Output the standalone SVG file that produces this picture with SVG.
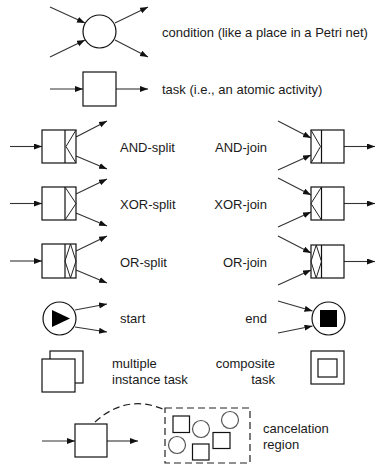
<svg xmlns="http://www.w3.org/2000/svg" width="381" height="466" viewBox="0 0 381 466">
<style>
.s{fill:#fff;stroke:#111;stroke-width:1.2}
.d{fill:none;stroke:#222;stroke-width:1}
.c{fill:none;stroke:#333;stroke-width:1.1;marker-end:url(#ah)}
.dash{fill:none;stroke:#222;stroke-width:1.2;stroke-dasharray:7,4}
.t{font-family:"Liberation Sans",Arial,sans-serif;font-size:13px;fill:#1a1a1a}
.e{text-anchor:end}
.g{fill:#fff;stroke:#555;stroke-width:1.2}
</style>
<defs>
<marker id="ah" markerUnits="userSpaceOnUse" markerWidth="9" markerHeight="7" refX="8" refY="3" orient="auto">
<path d="M0,0 L8,3 L0,6 z" fill="#111"/>
</marker>
</defs>
<rect width="381" height="466" fill="#fff"/>

<g id="connectors">
<line class="c" x1="50" y1="7" x2="85" y2="23"/>
<line class="c" x1="50" y1="57" x2="85" y2="40"/>
<line class="c" x1="115" y1="23" x2="148" y2="7"/>
<line class="c" x1="115" y1="40" x2="148" y2="57"/>
<line class="c" x1="50" y1="89" x2="83" y2="89"/>
<line class="c" x1="116" y1="89" x2="148" y2="89"/>
<line class="c" x1="10" y1="146.5" x2="42" y2="146.5"/>
<line class="c" x1="76" y1="137" x2="107" y2="121"/>
<line class="c" x1="76" y1="156" x2="107" y2="169"/>
<line class="c" x1="10" y1="203.5" x2="42" y2="203.5"/>
<line class="c" x1="76" y1="194" x2="107" y2="179"/>
<line class="c" x1="76" y1="213" x2="107" y2="226"/>
<line class="c" x1="10" y1="261" x2="42" y2="261"/>
<line class="c" x1="76" y1="251" x2="107" y2="236"/>
<line class="c" x1="76" y1="270" x2="107" y2="283"/>
<line class="c" x1="278" y1="121" x2="311" y2="138"/>
<line class="c" x1="278" y1="170" x2="311" y2="155"/>
<line class="c" x1="344" y1="146.5" x2="375" y2="146.5"/>
<line class="c" x1="278" y1="178" x2="311" y2="195"/>
<line class="c" x1="278" y1="227" x2="311" y2="212"/>
<line class="c" x1="344" y1="203.5" x2="375" y2="203.5"/>
<line class="c" x1="278" y1="236" x2="311" y2="253"/>
<line class="c" x1="278" y1="285" x2="311" y2="270"/>
<line class="c" x1="344" y1="261.5" x2="375" y2="261.5"/>
<line class="c" x1="75" y1="310" x2="107" y2="304"/>
<line class="c" x1="75" y1="327" x2="107" y2="332"/>
<line class="c" x1="278" y1="301" x2="312.5" y2="311"/>
<line class="c" x1="278" y1="333" x2="312.5" y2="326"/>
<line class="c" x1="42" y1="441" x2="75" y2="441"/>
<line class="c" x1="107" y1="441" x2="138" y2="441"/>
<path class="dash" d="M95,422 Q127,393 165,410"/>
</g>

<g id="condition">
<circle class="s" cx="99.5" cy="31.5" r="16.5"/>
<text class="t" x="162" y="36.5">condition (like a place in a Petri net)</text>
</g>

<g id="task">
<rect class="s" x="83" y="72" width="33" height="34"/>
<text class="t" x="162" y="93.5">task (i.e., an atomic activity)</text>
</g>

<g id="and-split">
<rect class="s" x="42" y="130" width="34" height="33"/>
<line class="s" x1="65" y1="130" x2="65" y2="163"/>
<polyline class="d" points="76,130 66,146.5 76,163"/>
<text class="t" x="120" y="151.5">AND-split</text>
</g>

<g id="xor-split">
<rect class="s" x="42" y="187" width="34" height="33"/>
<line class="s" x1="65" y1="187" x2="65" y2="220"/>
<polyline class="d" points="65,187 76,203.5 65,220"/>
<text class="t" x="120" y="208.5">XOR-split</text>
</g>

<g id="or-split">
<rect class="s" x="42" y="244" width="34" height="34"/>
<line class="s" x1="65" y1="244" x2="65" y2="278"/>
<polygon class="d" points="70.5,244 76,261 70.5,278 65,261"/>
<text class="t" x="120" y="266.5">OR-split</text>
</g>

<g id="and-join">
<rect class="s" x="311" y="130" width="33" height="33"/>
<line class="s" x1="321.5" y1="130" x2="321.5" y2="163"/>
<polyline class="d" points="311,130 320.5,146.5 311,163"/>
<text class="t e" x="267" y="151.5">AND-join</text>
</g>

<g id="xor-join">
<rect class="s" x="311" y="187" width="33" height="33"/>
<line class="s" x1="321.5" y1="187" x2="321.5" y2="220"/>
<polyline class="d" points="321.5,187 311,203.5 321.5,220"/>
<text class="t e" x="267" y="208.5">XOR-join</text>
</g>

<g id="or-join">
<rect class="s" x="311" y="245" width="33" height="33"/>
<line class="s" x1="321.5" y1="245" x2="321.5" y2="278"/>
<polygon class="d" points="316.2,245 321.5,261.5 316.2,278 311,261.5"/>
<text class="t e" x="267" y="266.5">OR-join</text>
</g>

<g id="start">
<circle class="s" cx="59.5" cy="318.5" r="16.5"/>
<polygon points="52,310 70,318.5 52,327" fill="#000"/>
<text class="t" x="120" y="323">start</text>
</g>

<g id="end">
<circle class="s" cx="328.5" cy="318.5" r="16.5"/>
<rect x="320" y="310" width="17" height="17" fill="#000"/>
<text class="t e" x="267" y="323">end</text>
</g>

<g id="multiple-instance-task">
<rect class="s" x="50" y="351" width="33" height="32"/>
<rect class="s" x="42" y="359" width="33" height="33"/>
<text class="t" x="112" y="368">multiple</text>
<text class="t" x="112" y="383.5">instance task</text>
</g>

<g id="composite-task">
<rect class="s" x="311" y="351" width="33" height="33"/>
<rect class="s" x="318" y="359" width="19" height="18"/>
<text class="t e" x="275" y="368">composite</text>
<text class="t e" x="275" y="383.5">task</text>
</g>

<g id="cancel-task">
<rect class="s" x="75" y="424" width="32" height="33"/>
</g>

<g id="cancelation-region">
<rect class="dash" x="165" y="408" width="85" height="55"/>
<rect class="s" x="173" y="416" width="16.5" height="16.5"/>
<circle class="g" cx="201" cy="429" r="8.5"/>
<circle class="g" cx="230" cy="420" r="8.5"/>
<rect class="s" x="213" y="432.5" width="17" height="16"/>
<circle class="g" cx="177" cy="445" r="8.5"/>
<rect class="s" x="192.5" y="444" width="16.5" height="16"/>
<text class="t" x="263" y="433">cancelation</text>
<text class="t" x="263" y="449">region</text>
</g>
</svg>
